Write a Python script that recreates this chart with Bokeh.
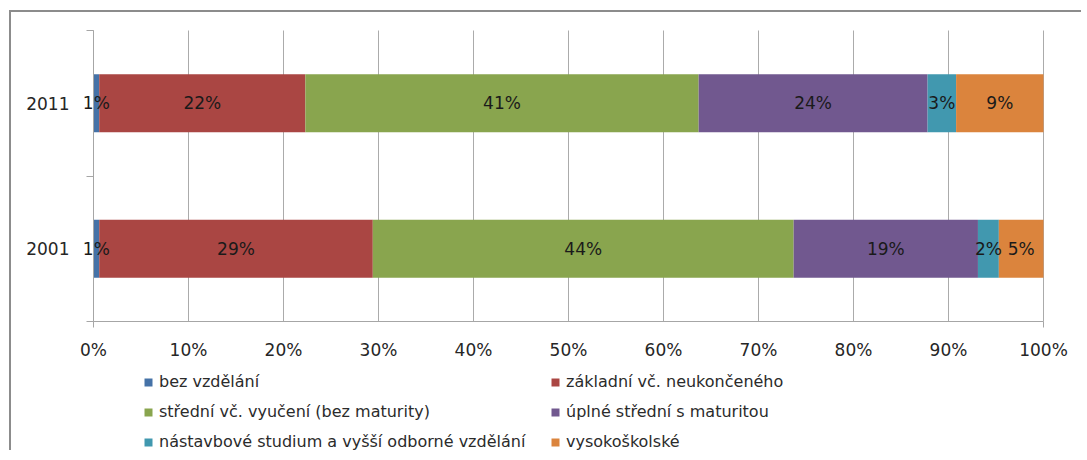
from bokeh.plotting import figure
from bokeh.models import (ColumnDataSource, Range1d, FixedTicker, PrintfTickFormatter,
                          Legend, LegendItem)
from bokeh.layouts import column
from bokeh.core.properties import value
from bokeh.embed import file_html
from bokeh.resources import INLINE

# ---- data ----
years = ["2001", "2011"]
categories = [
    "bez vzdělání",
    "základní vč. neukončeného",
    "střední vč. vyučení (bez maturity)",
    "úplné střední s maturitou",
    "nástavbové studium a vyšší odborné vzdělání",
    "vysokoškolské",
]
shares_2001 = [0.6, 28.8, 44.3, 19.4, 2.2, 4.7]
shares_2011 = [0.6, 21.7, 41.4, 24.1, 3.0, 9.2]
x_ticks = [0, 10, 20, 30, 40, 50, 60, 70, 80, 90, 100]

colors = ["#4572A7", "#AA4643", "#89A54E", "#71588F", "#4198AF", "#DB843D"]
FONT = "DejaVu Sans"
AXIS_GRAY = "#A6A6A6"

series = {"2001": shares_2001, "2011": shares_2011}
ypos = [i + 0.5 for i in range(len(years))]
ny = len(years)

W, H = 1070, 438
PAD_L, PAD_R, PAD_T, PAD_B = 82, 38, 18, 129   # canvas px around the plot area
ppx = (W - PAD_L - PAD_R) / 100.0
ppy = (H - PAD_T - PAD_B) / ny

p = figure(width=W, height=H, output_backend="svg", toolbar_location=None,
           x_range=Range1d(-PAD_L / ppx, 100 + PAD_R / ppx),
           y_range=Range1d(-PAD_B / ppy, ny + PAD_T / ppy),
           min_border=0)
p.outline_line_color = None
p.background_fill_color = "white"
p.border_fill_color = "white"

# stacked bars
renderers = []
lefts = [0.0] * ny
lab_x, lab_y, lab_t = [], [], []
for ci, cat in enumerate(categories):
    vals = [series[y][ci] for y in years]
    rights = [l + v for l, v in zip(lefts, vals)]
    src = ColumnDataSource(dict(y=ypos, left=lefts, right=rights))
    r = p.hbar(y="y", left="left", right="right", height=0.4, source=src,
               fill_color=colors[ci], line_color=None)
    renderers.append(r)
    for yi, y in enumerate(ypos):
        lab_x.append((lefts[yi] + rights[yi]) / 2)
        lab_y.append(y)
        lab_t.append(f"{round(vals[yi])}%")
    lefts = rights

lsrc = ColumnDataSource(dict(x=lab_x, y=lab_y, t=lab_t))
p.text(x="x", y="y", text="t", source=lsrc, text_align="center",
       text_baseline="middle", text_font=value(FONT), text_font_size="17px",
       text_color="#1a1a1a")

# axes (drawn inline at the plot-area edges)
p.xaxis.fixed_location = 0
p.xaxis.bounds = (0, 100)
p.xaxis.ticker = FixedTicker(ticks=x_ticks, minor_ticks=[x_ticks[0], x_ticks[-1]])
p.xaxis.formatter = PrintfTickFormatter(format="%d%%")
p.xaxis.major_tick_out = 0
p.xaxis.major_tick_in = 0
p.xaxis.minor_tick_out = 6
p.xaxis.minor_tick_in = 0
p.xaxis.minor_tick_line_color = AXIS_GRAY
p.xaxis.axis_line_color = AXIS_GRAY
p.xaxis.major_label_text_font = FONT
p.xaxis.major_label_text_font_size = "17px"
p.xaxis.major_label_text_color = "#262626"
p.xaxis.major_label_standoff = 12

p.yaxis.fixed_location = 0
p.yaxis.bounds = (0, ny)
p.yaxis.ticker = FixedTicker(ticks=ypos, minor_ticks=list(range(ny + 1)))
p.yaxis.major_label_overrides = {y: lab for y, lab in zip(ypos, years)}
p.yaxis.major_tick_out = 0
p.yaxis.major_tick_in = 0
p.yaxis.minor_tick_out = 7
p.yaxis.minor_tick_in = 0
p.yaxis.minor_tick_line_color = AXIS_GRAY
p.yaxis.axis_line_color = AXIS_GRAY
p.yaxis.major_label_text_font = FONT
p.yaxis.major_label_text_font_size = "17px"
p.yaxis.major_label_text_color = "#262626"
p.yaxis.major_label_standoff = 17

p.xgrid.ticker = FixedTicker(ticks=x_ticks)
p.xgrid.cross_bounds = (0, ny)
p.xgrid.grid_line_color = "#ABABAB"
p.ygrid.visible = False

# legends: two columns
def make_legend(idx, x):
    lg = Legend(items=[LegendItem(label=categories[i], renderers=[renderers[i]]) for i in idx],
                location=(x, -1), orientation="vertical")
    lg.glyph_width = 10
    lg.glyph_height = 10
    lg.label_height = 18
    lg.spacing = 11
    lg.label_standoff = 6
    lg.padding = 0
    lg.margin = 0
    lg.border_line_color = None
    lg.background_fill_alpha = 0
    lg.label_text_font = FONT
    lg.label_text_font_size = "16px"
    lg.label_text_color = "#2b2b2b"
    return lg

p.add_layout(make_legend([0, 2, 4], 132), "center")
p.add_layout(make_legend([1, 3, 5], 539), "center")

page = column(p, styles={"margin-left": "9px", "margin-top": "10px",
                         "border-left": "2px solid #8c8c8c",
                         "border-top": "2px solid #8c8c8c"})

open("out.html", "w").write(file_html(page, INLINE))
